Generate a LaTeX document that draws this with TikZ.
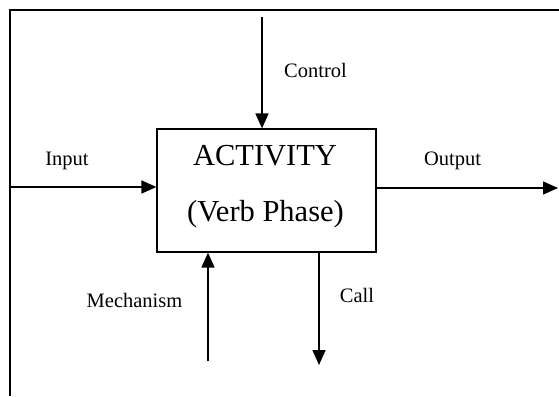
\documentclass[tikz,border=0pt]{standalone}
\usepackage{fontspec}
\setmainfont{Liberation Serif}
\usetikzlibrary{arrows.meta}
\begin{document}
\begin{tikzpicture}[x=1pt,y=-1pt,
  flow/.style={line width=1.6pt,-{Triangle[length=15pt,width=13pt]}},
  lbl/.style={font=\fontsize{20.5}{24}\selectfont,inner sep=0pt},
  big/.style={font=\fontsize{30.5}{36}\selectfont,inner sep=0pt,anchor=base}]
\useasboundingbox (0,0) rectangle (559,396);
\draw[line width=1.8pt] (10,396) -- (10,10) -- (559,10);
\node[draw,line width=1.2pt,minimum width=219pt,minimum height=123pt,inner sep=0pt] (act) at (266.5,190.5) {};
\node[big] (t1) at (265,165) {ACTIVITY};
\node[big] (t2) at (265.5,221) {(Verb Phase)};
\coordinate (cin) at (10,187);
\coordinate (cout) at (558,188);
\coordinate (cctl) at (262,17);
\coordinate (cmech) at (208,361);
\coordinate (ccall) at (319,365);
\draw[flow] (cctl) -- (cctl |- act.north);
\draw[flow] (cin) -- (cin -| act.west);
\draw[flow] (cout -| act.east) -- (cout);
\draw[flow] (cmech) -- (cmech |- act.south);
\draw[flow] (ccall |- act.south) -- (ccall);
\node[lbl] (lctl) at (315.5,70) {Control};
\node[lbl] (lin) at (67,161) {Input};
\node[lbl] (lout) at (452.5,161) {Output};
\node[lbl] (lmech) at (134.5,300) {Mechanism};
\node[lbl] (lcall) at (357,295) {Call};
\end{tikzpicture}
\end{document}
